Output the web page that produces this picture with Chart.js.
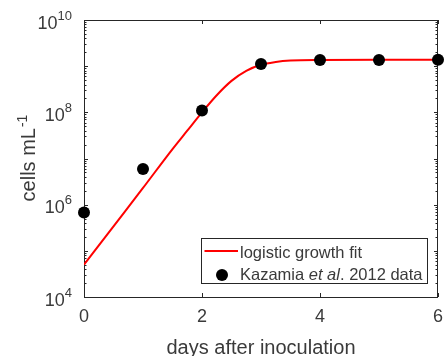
<!DOCTYPE html>
<html>
<head>
<meta charset="utf-8">
<script src="https://cdn.jsdelivr.net/npm/chart.js@4.4.0/dist/chart.umd.min.js"></script>
<style>
  html, body { margin: 0; padding: 0; background: #fff; }
  #wrap { width: 444px; height: 356px; }
</style>
</head>
<body>
<div id="wrap"><canvas id="growth" width="444" height="356"></canvas></div>
<script>
// Kazamia et al. 2012 cell counts
const days = [0, 1, 2, 3, 4, 5, 6];
const cellsObserved = [6.8e5, 5.9e6, 1.1e8, 1.12e9, 1.36e9, 1.36e9, 1.37e9];

// logistic growth fit, sampled along the red curve
const fitDays = [0, 0.5, 1, 1.5, 1.75, 2, 2.25, 2.5, 2.75, 3, 3.25, 3.5, 4, 5, 6];
const fitCells = [5.0e4, 3.4e5, 2.3e6, 1.6e7, 4.0e7, 1.0e8, 2.35e8, 4.8e8, 7.9e8,
                  1.07e9, 1.23e9, 1.32e9, 1.36e9, 1.37e9, 1.37e9];

const xTicks = [0, 2, 4, 6];
const yDecades = [4, 5, 6, 7, 8, 9, 10];
const yLabelDecades = [4, 6, 8, 10];

const ink = '#262626';
const textInk = '#3a3a3a';
const fam = '"Liberation Sans", Arial, sans-serif';

// box, inward ticks and tick labels like a matlab axes
const axesPlugin = {
  id: 'matlabAxes',
  beforeDatasetsDraw(chart) {
    const { ctx, chartArea: a, scales: { x, y } } = chart;
    ctx.save();
    ctx.strokeStyle = ink;
    ctx.lineWidth = 1;
    ctx.strokeRect(a.left + 0.5, a.top + 0.5, a.right - a.left - 1, a.bottom - a.top);

    ctx.beginPath();
    xTicks.forEach(v => {
      const px = Math.round(x.getPixelForValue(v)) + 0.5;
      ctx.moveTo(px, a.bottom); ctx.lineTo(px, a.bottom - 4);
      ctx.moveTo(px, a.top); ctx.lineTo(px, a.top + 4);
    });
    yDecades.forEach(e => {
      const py = Math.round(y.getPixelForValue(Math.pow(10, e))) + 0.5;
      ctx.moveTo(a.left, py); ctx.lineTo(a.left + 4, py);
      ctx.moveTo(a.right, py); ctx.lineTo(a.right - 4, py);
      if (e === 10) return;
      for (let d = 2; d <= 9; d++) {
        const pm = Math.round(y.getPixelForValue(d * Math.pow(10, e))) + 0.5;
        ctx.moveTo(a.left, pm); ctx.lineTo(a.left + 2.5, pm);
        ctx.moveTo(a.right, pm); ctx.lineTo(a.right - 2.5, pm);
      }
    });
    ctx.stroke();

    ctx.fillStyle = textInk;
    ctx.textBaseline = 'alphabetic';
    // x labels
    ctx.font = '18px ' + fam;
    ctx.textAlign = 'center';
    xTicks.forEach(v => ctx.fillText(String(v), x.getPixelForValue(v), a.bottom + 25));
    // y labels 10^n
    yLabelDecades.forEach(e => {
      const py = y.getPixelForValue(Math.pow(10, e));
      ctx.font = '13px ' + fam;
      const ew = ctx.measureText(String(e)).width;
      ctx.textAlign = 'left';
      ctx.fillText(String(e), 72 - ew, py - 0.5);
      ctx.font = '18px ' + fam;
      ctx.textAlign = 'right';
      ctx.fillText('10', 72 - ew, py + 8.5);
    });

    // axis titles
    ctx.font = '20px ' + fam;
    ctx.textAlign = 'center';
    ctx.fillText('days after inoculation', (a.left + a.right) / 2, 354);

    ctx.translate(35, (a.top + a.bottom) / 2);
    ctx.rotate(-Math.PI / 2);
    ctx.textAlign = 'left';
    ctx.font = '20px ' + fam;
    const w1 = ctx.measureText('cells mL').width;
    ctx.font = '14px ' + fam;
    const w2 = ctx.measureText('-1').width;
    const start = -(w1 + w2) / 2;
    ctx.font = '20px ' + fam;
    ctx.fillText('cells mL', start, 0);
    ctx.font = '14px ' + fam;
    ctx.fillText('-1', start + w1 + 1, -8);
    ctx.restore();
  },
  afterDraw(chart) {
    const { ctx } = chart;
    ctx.save();
    ctx.fillStyle = '#fff';
    ctx.fillRect(201, 238, 227, 46);
    ctx.strokeStyle = ink;
    ctx.lineWidth = 1;
    ctx.strokeRect(201.5, 238.5, 226, 45);

    ctx.strokeStyle = '#ff0000';
    ctx.lineWidth = 2;
    ctx.beginPath();
    ctx.moveTo(204.5, 251); ctx.lineTo(238, 251);
    ctx.stroke();

    ctx.fillStyle = '#000';
    ctx.beginPath();
    ctx.arc(222, 275, 6, 0, Math.PI * 2);
    ctx.fill();

    ctx.fillStyle = textInk;
    ctx.textAlign = 'left';
    ctx.textBaseline = 'alphabetic';
    ctx.font = '16.5px ' + fam;
    ctx.fillText('logistic growth fit', 240, 257.5);
    let tx = 240;
    const parts = [['Kazamia ', ''], ['et al', 'italic '], ['. 2012 data', '']];
    parts.forEach(([s, style]) => {
      ctx.font = style + '16.5px ' + fam;
      ctx.fillText(s, tx, 280);
      tx += ctx.measureText(s).width;
    });
    ctx.restore();
  }
};

new Chart(document.getElementById('growth'), {
  type: 'scatter',
  data: {
    datasets: [
      {
        label: 'Kazamia et al. 2012 data',
        data: days.map((d, i) => ({ x: d, y: cellsObserved[i] })),
        backgroundColor: '#000',
        borderWidth: 0,
        pointRadius: 6,
        pointHoverRadius: 6,
        clip: false,
        order: 0
      },
      {
        type: 'line',
        label: 'logistic growth fit',
        data: fitDays.map((d, i) => ({ x: d, y: fitCells[i] })),
        borderColor: '#ff0000',
        borderWidth: 2,
        pointRadius: 0,
        fill: false,
        cubicInterpolationMode: 'monotone',
        order: 1
      }
    ]
  },
  options: {
    responsive: false,
    animation: false,
    layout: { padding: { left: 84, right: 4, top: 20, bottom: 59 } },
    plugins: { legend: { display: false }, tooltip: { enabled: false } },
    scales: {
      x: { type: 'linear', min: 0, max: 6, display: false },
      y: { type: 'logarithmic', min: 1e4, max: 1e10, display: false }
    }
  },
  plugins: [axesPlugin]
});
</script>
</body>
</html>
